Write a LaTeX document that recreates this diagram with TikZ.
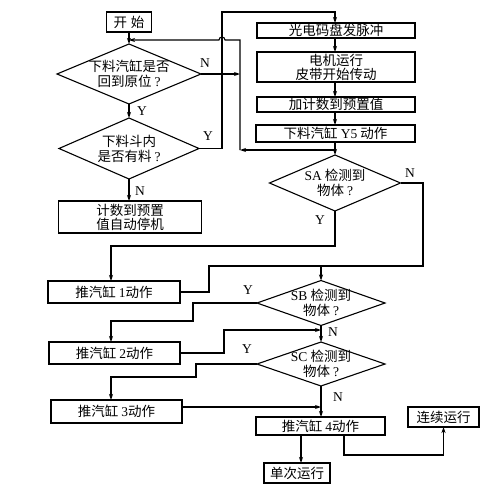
\documentclass[tikz,border=0pt]{standalone}
\usepackage{fontspec}
\setmainfont{Liberation Serif}
\newfontfamily\cjk{Noto Sans CJK SC}
\usetikzlibrary{shapes.geometric,arrows.meta}
\newcommand\qm{\hspace{3pt}{\rmfamily ?}}
\begin{document}
\begin{tikzpicture}[x=1pt,y=-1pt,
  box/.style={draw, line width=1.1pt, rectangle, inner sep=0pt, outer sep=0pt, font=\cjk\fontsize{13.5}{14}\selectfont, align=center},
  dia/.style={draw, line width=1.1pt, diamond, inner sep=0pt, outer sep=0pt},
  dtext/.style={font=\cjk\fontsize{13.5}{15}\selectfont, align=center, inner sep=0pt},
  line/.style={line width=1.1pt},
  arr/.style={line width=1.1pt, -{Stealth[length=6pt,width=4pt]}},
  lab/.style={font=\fontsize{13.5}{13.5}\selectfont, inner sep=0pt}]
\fill[white] (0,0) rectangle (493,498);
\useasboundingbox (0,0) rectangle (493,498);

% left column
\node[box, minimum width=45, minimum height=20] (start) at (129,22) {开\hspace{4pt}始};
\node[dia, minimum width=144, minimum height=60] (d1) at (129,74) {};
\node[dtext] at (d1) {下料汽缸是否\\回到原位\qm};
\node[dia, minimum width=140, minimum height=61] (d2) at (129,148.5) {};
\node[dtext] at (d2) {下料斗内\\是否有料\qm};
\node[box, minimum width=143, minimum height=32] (stop) at (130,217) {计数到预置\\值自动停机};

% right column
\node[box, minimum width=158, minimum height=15] (b1) at (336,30.5) {光电码盘发脉冲};
\node[box, minimum width=158, minimum height=30] (b2) at (336,67) {电机运行\\皮带开始传动};
\node[box, minimum width=158, minimum height=15] (b3) at (336,104.5) {加计数到预置值};
\node[box, minimum width=159, minimum height=17] (b4) at (335.5,133.5) {下料汽缸 {\rmfamily Y5} 动作};
\node[dia, minimum width=131, minimum height=56] (sa) at (335,183) {};
\node[dtext] at (sa) {{\rmfamily SA} 检测到\\物体\qm};
\node[dia, minimum width=128, minimum height=45] (sb) at (321,303) {};
\node[dtext] at (sb) {{\rmfamily SB} 检测到\\物体\qm};
\node[dia, minimum width=128, minimum height=44] (sc) at (321,364) {};
\node[dtext] at (sc) {{\rmfamily SC} 检测到\\物体\qm};

\node[box, minimum width=132, minimum height=22] (p1) at (114,292) {推汽缸 {\rmfamily 1}动作};
\node[box, minimum width=131, minimum height=22] (p2) at (114.5,353) {推汽缸 {\rmfamily 2}动作};
\node[box, minimum width=131, minimum height=23] (p3) at (116.5,411.5) {推汽缸 {\rmfamily 3}动作};
\node[box, minimum width=129, minimum height=18] (p4) at (320.5,426) {推汽缸 {\rmfamily 4}动作};
\node[box, minimum width=66, minimum height=20] (single) at (297,473) {单次运行};
\node[box, minimum width=71, minimum height=20] (cont) at (443.5,417) {连续运行};

% coordinates
\coordinate (v240a) at (240,150);
\coordinate (v240b) at (240,40);
\coordinate (v240n) at (240,74);
\coordinate (hopR) at (225,40);
\coordinate (top40) at (129,40);
\coordinate (j) at (335,150);
\coordinate (r1) at (222,148.5);
\coordinate (r2) at (222,12);
\coordinate (r3) at (335,12);
\coordinate (n1) at (423,183);
\coordinate (n2) at (423,266);
\coordinate (m266) at (321,266);
\coordinate (q1) at (209,266);
\coordinate (ya1) at (335,246);
\coordinate (ya2) at (111,246);
\coordinate (yb1) at (193,303);
\coordinate (yb2) at (193,321);
\coordinate (yb3) at (111,321);
\coordinate (q2) at (224,330);
\coordinate (m330) at (321,330);
\coordinate (yc1) at (196,364);
\coordinate (yc2) at (196,377);
\coordinate (yc3) at (111,377);
\coordinate (m407) at (321,407);
\coordinate (c1) at (344,455);

% connectors
\draw[arr] (start.south) -- (d1.north);
\draw[arr] (b4.south -| sa.north) -- (sa.north);
\draw[arr] (j) -- (v240a);
\draw[arr] (v240a) -- (v240b) -- (hopR) arc[start angle=0, end angle=-180, radius=3] -- (top40);
\draw[arr] (d1.east) -- (v240n);
\draw[arr] (d1.south) -- (d2.north);
\draw[arr] (d2.east) -- (r1) -- (r2) -- (r3) -- (b1.north -| sa.north);
\draw[arr] (d2.south) -- (d2.south |- stop.north);
\draw[arr] (b1.south -| sa.north) -- (b2.north -| sa.north);
\draw[arr] (b2.south -| sa.north) -- (b3.north -| sa.north);
\draw[arr] (b3.south -| sa.north) -- (b4.north -| sa.north);

\draw[line] (sa.east) -- (n1) -- (n2) -- (m266);
\draw[arr] (p1.east) -| (q1) -- (m266) -- (sb.north);
\draw[arr] (sa.south) -- (ya1) -- (ya2) -- ([xshift=-3pt]p1.north);
\draw[arr] (sb.west) -- (yb1) -- (yb2) -- (yb3) -- ([xshift=-3.5pt]p2.north);
\draw[arr] (p2.east) -| (q2) -- (m330);
\draw[arr] (sb.south) -- (sc.north);
\draw[arr] (sc.west) -- (yc1) -- (yc2) -- (yc3) -- ([xshift=-5.5pt]p3.north);
\draw[arr] ([yshift=4.5pt]p3.east) -- (m407);
\draw[arr] (sc.south) -- (sc.south |- p4.north);
\draw[arr] ([xshift=4pt]p4.south -| single.north) -- ([xshift=4pt]single.north);
\draw[arr] (c1 |- p4.south) -- (c1) -| (cont.south);

% labels
\node[lab] at (205,63) {N};
\node[lab] at (142,111) {Y};
\node[lab] at (208,136) {Y};
\node[lab] at (140,191) {N};
\node[lab] at (410,173) {N};
\node[lab] at (320,220) {Y};
\node[lab] at (248,290) {Y};
\node[lab] at (333,332) {N};
\node[lab] at (247,349) {Y};
\node[lab] at (338,397) {N};
\end{tikzpicture}
\end{document}
